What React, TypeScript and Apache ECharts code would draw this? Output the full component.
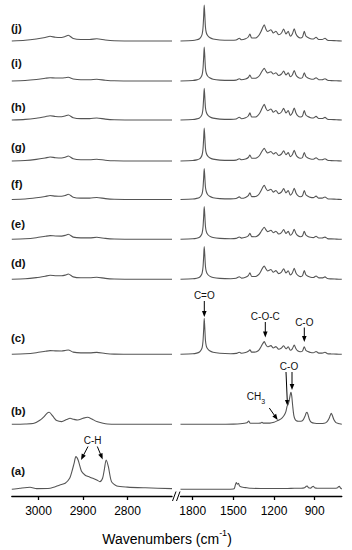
import React, { useEffect, useRef } from "react";
import * as echarts from "echarts";

// ---------- DATA ----------
const labels = ["(a)", "(b)", "(c)", "(d)", "(e)", "(f)", "(g)", "(h)", "(i)", "(j)"];
const leftTicks = [2800, 2900, 3000];
const rightTicks = [900, 1200, 1500, 1800];

// blend spectra (c)-(j), C-H region
const leftWnBlend = [3060, 3030, 3005, 2985, 2974, 2962, 2948, 2940, 2933, 2922, 2905, 2885, 2869, 2850, 2830, 2780, 2700];
const leftC = [0, 0.5, 1.6, 3, 3.7, 3.4, 3.3, 3.8, 4.3, 2.2, 1.4, 1.4, 1.9, 0.8, 0.2, 0, 0];
const leftD = [0, 0.5, 1.7, 3.1, 4, 3.6, 3.5, 4.2, 5.3, 2.4, 1.5, 1.5, 2.1, 0.9, 0.3, 0, 0];
const leftE = [0, 0.5, 1.6, 3, 3.7, 3.3, 3.2, 3.9, 5, 2.2, 1.4, 1.4, 2, 0.9, 0.3, 0, 0];
const leftF = [0, 0.5, 1.7, 3, 4, 3.4, 3.2, 4, 5.3, 2.3, 1.4, 1.4, 2, 0.9, 0.3, 0, 0];
const leftG = [0, 0.5, 1.6, 3, 4, 3.3, 3, 3.8, 5, 2.2, 1.3, 1.3, 1.8, 0.8, 0.2, 0, 0];
const leftH = [0, 0.6, 1.8, 3.3, 4.3, 3.5, 3.3, 4, 5, 2.3, 1.4, 1.4, 2, 0.9, 0.3, 0, 0];
const leftI = [0, 0.5, 1.5, 2.7, 3.3, 3, 3, 3.3, 3.7, 2, 1.2, 1.2, 1.7, 0.8, 0.2, 0, 0];
const leftJ = [0, 0.7, 2, 3.5, 4.7, 3.7, 3.5, 4.5, 5.7, 2.5, 1.5, 1.5, 2.2, 1.0, 0.3, 0, 0];

// blend spectra (c)-(j), fingerprint region
const rightWnBlend = [1890, 1800, 1770, 1750, 1738, 1730, 1724, 1719, 1715, 1711, 1706, 1700, 1690, 1675, 1650, 1600, 1520, 1480, 1456, 1440, 1410, 1390, 1378, 1365, 1345, 1330, 1310, 1296, 1285, 1272, 1260, 1247, 1223, 1205, 1186, 1166, 1145, 1129, 1112, 1095, 1080, 1065, 1051, 1038, 1026, 1006, 990, 977, 965, 950, 930, 910, 890, 870, 845, 824, 805, 780, 740, 700];
const rightC = [0, 0.5, 1.2, 2.3, 4.2, 7, 13, 25, 36, 27, 14, 8.5, 5.5, 3.5, 2, 1, 0.6, 0.9, 2, 1.1, 1.8, 3, 4.5, 2.2, 2.2, 2.5, 4.5, 7.5, 10.3, 12.7, 9.5, 7.5, 8.7, 6.3, 7.7, 5, 6.3, 8.5, 5.5, 7.5, 4, 5.5, 9.3, 5.5, 3.5, 2.5, 3.3, 7.5, 4, 2.8, 1.8, 1.5, 2.8, 1.2, 1.2, 2, 0.6, 0.4, 0.2, 0];
const rightD = [0, 0.5, 1.1, 2.1, 3.9, 6.5, 12, 23, 32.7, 25, 13, 8, 5, 3.2, 1.8, 0.9, 0.6, 1, 2.5, 1.2, 2.1, 3.7, 6.5, 2.8, 2.8, 3.1, 5.2, 8.3, 11.2, 13.3, 10.5, 8.3, 9.8, 7, 8.7, 5.7, 7.2, 10.6, 6.3, 8.6, 4.3, 6.3, 10.9, 6.3, 4.1, 2.7, 3.6, 8.7, 4.5, 3.1, 2.1, 1.8, 3.3, 1.4, 1.4, 2.4, 0.7, 0.4, 0.2, 0];
const rightE = [0, 0.5, 1.1, 2.1, 3.9, 6.5, 12, 23, 32.7, 25, 13, 8, 5, 3.2, 1.8, 0.9, 0.6, 0.9, 2.3, 1.2, 2, 3.4, 6, 2.7, 2.6, 2.9, 4.8, 7.6, 10, 12, 9.6, 7.7, 9, 6.6, 8, 5.3, 6.7, 9.8, 5.8, 8, 4, 5.8, 10, 5.8, 3.8, 2.6, 3.4, 8, 4.3, 2.9, 2, 1.7, 3, 1.3, 1.3, 2.2, 0.7, 0.4, 0.2, 0];
const rightF = [0, 0.5, 1.1, 2, 3.7, 6.2, 11.5, 22, 31, 23.5, 12.5, 8, 5, 3.2, 1.8, 0.9, 0.6, 1, 2.6, 1.2, 2.1, 3.8, 6.8, 2.9, 2.9, 3.2, 5.5, 8.8, 11.8, 14.3, 11, 8.8, 10.3, 7.4, 9, 5.9, 7.5, 11, 6.6, 9, 4.4, 6.6, 11.3, 6.6, 4.2, 2.8, 3.8, 9, 4.7, 3.2, 2.1, 1.9, 3.4, 1.4, 1.4, 2.5, 0.8, 0.5, 0.3, 0];
const rightG = [0, 0.5, 1.1, 2.1, 3.9, 6.5, 12, 23, 33, 25, 13, 8, 5.1, 3.3, 1.9, 0.9, 0.6, 0.9, 2.3, 1.2, 2, 3.5, 6, 2.8, 2.7, 3, 5, 8, 10.5, 12.7, 10, 8, 9.5, 7, 8.5, 5.5, 7, 10.3, 6.2, 8.5, 4.3, 6.2, 10.7, 6.2, 4, 2.7, 3.5, 8.5, 4.5, 3, 2, 1.8, 3.2, 1.3, 1.3, 2.3, 0.7, 0.4, 0.2, 0];
const rightH = [0, 0.5, 1.1, 2, 3.7, 6.2, 11.5, 22.5, 31.7, 24, 12.5, 8, 5.1, 3.3, 1.9, 0.9, 0.6, 1, 2.8, 1.3, 2.2, 4, 7.3, 3, 3, 3.3, 6, 9.5, 12.8, 15.7, 11.7, 9.3, 11, 7.8, 9.5, 6.2, 8, 11.7, 7, 9.5, 4.6, 7, 12, 7, 4.4, 3, 4, 9.5, 5, 3.4, 2.3, 2, 3.6, 1.5, 1.5, 2.6, 0.8, 0.5, 0.3, 0];
const rightI = [0, 0.5, 1.1, 2.1, 4, 6.7, 12.5, 24, 34, 25.5, 13, 8, 5, 3.2, 1.8, 0.9, 0.6, 0.9, 2.3, 1.2, 2, 3.5, 6, 2.8, 2.7, 3, 5, 8, 10.5, 12.7, 10, 8, 9.3, 7, 8.3, 5.5, 7, 10, 6, 8.3, 4.2, 6, 10.5, 6, 4, 2.7, 3.5, 8.3, 4.5, 3, 2, 1.8, 3.2, 1.3, 1.3, 2.3, 0.7, 0.4, 0.2, 0];
const rightJ = [0, 0.5, 1.2, 2.3, 4.2, 7, 13, 25, 36, 27, 14, 8.5, 5.5, 3.5, 2, 1, 0.7, 1, 2.7, 1.3, 2.2, 4, 7, 3, 3, 3.3, 6, 9.5, 13, 16.3, 12, 9.5, 11.3, 8, 9.7, 6.3, 8, 12, 7, 9.7, 4.7, 7, 12.3, 7, 4.5, 3, 4, 9.7, 5, 3.5, 2.3, 2, 3.7, 1.5, 1.5, 2.7, 0.8, 0.5, 0.3, 0];

// spectrum (b)
const bLeftWn = [3060, 3030, 3010, 2997, 2988, 2981, 2976, 2971, 2965, 2959, 2948, 2937, 2929, 2921, 2912, 2900, 2890, 2880, 2869, 2855, 2845, 2800, 2700];
const bLeft = [0, 0.3, 1, 4, 7.5, 11, 12, 10, 6.5, 3.7, 2.7, 4.7, 6, 5, 4.3, 6, 7, 5.3, 2.7, 1, 0.3, 0, 0];
const bRightWn = [1890, 1800, 1600, 1500, 1450, 1400, 1387, 1375, 1340, 1300, 1289, 1278, 1230, 1200, 1173, 1160, 1140, 1125, 1112, 1104, 1096, 1088, 1080, 1075, 1069, 1062, 1054, 1045, 1035, 1020, 1002, 985, 972, 962, 956, 948, 938, 925, 900, 860, 830, 810, 795, 785, 778, 770, 758, 745, 730, 715, 700];
const bRight = [0, 0, 0, 0.2, 0.5, 1.5, 3.3, 1, 1, 1.2, 2, 1.2, 1.2, 2, 3.7, 4.5, 6.5, 9, 13, 18, 20, 24, 30, 32, 28, 18, 9, 5, 3.5, 3, 3, 4.5, 8, 11.5, 12, 9, 4.5, 2, 1, 0.8, 1, 2.5, 5.5, 9, 11, 9, 4.5, 2, 1, 0.5, 0];

// spectrum (a)
const aLeftWn = [3060, 3042, 3019, 3004, 2974, 2952, 2940, 2930, 2925, 2920, 2916, 2911, 2903, 2895, 2888, 2878, 2869, 2862, 2856, 2852, 2848, 2843, 2836, 2824, 2800, 2760, 2700];
const aLeft = [0, 1, 2, 0.7, 1, 4.3, 6, 11, 17.7, 26, 32.7, 29.3, 17.7, 14, 12.7, 11, 9.3, 7.7, 11, 20, 29.3, 22.7, 7.7, 3.3, 2.2, 1.5, 0.7];
const aRightWn = [1890, 1700, 1550, 1500, 1492, 1484, 1478, 1470, 1462, 1455, 1445, 1430, 1400, 1370, 1300, 1200, 1100, 1050, 1000, 975, 962, 955, 945, 930, 918, 910, 900, 880, 850, 800, 760, 735, 725, 718, 712, 705, 700];
const aRight = [0, 0, 0, 0.3, 1, 5, 6.7, 5, 6, 3.5, 2.5, 2, 1.5, 1, 0.8, 0.8, 0.8, 1, 1, 1.5, 3, 3.3, 1.5, 1.2, 2.5, 3, 1.5, 1, 1, 1, 1, 1.3, 2.5, 3, 1.7, 0.8, 0.3];

// ---------- LAYOUT ----------
const FONT = "'Liberation Sans', Arial, sans-serif";
const AXIS_Y = 496;
// vertical stacking offsets (pixel units above axis) for a..j
const offsets = [6.7, 71.7, 141.7, 216.7, 256.7, 296.5, 335, 376, 415, 455];
const labelY = [471, 411, 338, 263, 224, 184, 147, 107, 63, 28];

const spectraLeft: [number[], number[]][] = [
  [aLeftWn, aLeft], [bLeftWn, bLeft],
  [leftWnBlend, leftC], [leftWnBlend, leftD], [leftWnBlend, leftE], [leftWnBlend, leftF],
  [leftWnBlend, leftG], [leftWnBlend, leftH], [leftWnBlend, leftI], [leftWnBlend, leftJ],
];
const spectraRight: [number[], number[]][] = [
  [aRightWn, aRight], [bRightWn, bRight],
  [rightWnBlend, rightC], [rightWnBlend, rightD], [rightWnBlend, rightE], [rightWnBlend, rightF],
  [rightWnBlend, rightG], [rightWnBlend, rightH], [rightWnBlend, rightI], [rightWnBlend, rightJ],
];

function arrow(x1: number, y1: number, x2: number, y2: number): any[] {
  const dx = x2 - x1, dy = y2 - y1;
  const len = Math.hypot(dx, dy);
  const ux = dx / len, uy = dy / len;
  const hl = 6, hw = 2.3;
  const bx = x2 - ux * hl, by = y2 - uy * hl;
  return [
    { type: "line", shape: { x1, y1, x2: bx + ux, y2: by + uy }, style: { stroke: "#000", lineWidth: 1 }, silent: true },
    {
      type: "polygon",
      shape: { points: [[x2, y2], [bx - uy * hw, by + ux * hw], [bx + uy * hw, by - ux * hw]] },
      style: { fill: "#000" },
      silent: true,
    },
  ];
}

function txt(text: string, x: number, y: number, size: number, bold = false): any {
  return {
    type: "text",
    x, y,
    style: { text, fontSize: size, fontFamily: FONT, fontWeight: bold ? "bold" : "normal", fill: "#111", align: bold ? "left" : "center", verticalAlign: "middle" },
    silent: true,
  };
}

export default function App() {
  const ref = useRef<HTMLDivElement>(null);
  useEffect(() => {
    document.body.style.margin = "0";
    if (!ref.current) return;
    const chart = echarts.init(ref.current, null, { renderer: "svg" });

    const series: any[] = [];
    const lineStyle = { color: "#555", width: 1.1 };
    spectraLeft.forEach(([wn, v], k) => {
      series.push({
        type: "line", xAxisIndex: 0, yAxisIndex: 0, showSymbol: false, smooth: 0.25,
        lineStyle, data: wn.map((w, i) => [w, v[i] + offsets[k]]), silent: true,
      });
    });
    spectraRight.forEach(([wn, v], k) => {
      series.push({
        type: "line", xAxisIndex: 1, yAxisIndex: 1, showSymbol: false, smooth: 0.25,
        lineStyle, data: wn.map((w, i) => [w, v[i] + offsets[k]]), silent: true,
      });
    });

    const axisCommon = (min: number, max: number, ticks: number[], gridIndex: number) => ({
      type: "value", gridIndex, min, max, inverse: true,
      axisLine: { show: true, lineStyle: { color: "#000", width: 1.3 } },
      axisTick: { show: true, inside: false, length: 4, customValues: ticks, lineStyle: { color: "#000", width: 1.3 } },
      axisLabel: { customValues: ticks, color: "#000", fontSize: 12, fontFamily: FONT, margin: 9, formatter: (v: number) => String(v) },
      splitLine: { show: false },
    });

    const graphic: any[] = [];
    labels.forEach((l, k) => graphic.push(txt(l, 11, labelY[k], 11.5, true)));
    // annotations
    graphic.push(txt("C=O", 204.3, 295, 10));
    graphic.push(...arrow(204.3, 301, 204.3, 317));
    graphic.push(txt("C-O-C", 265.3, 316.5, 10));
    graphic.push(...arrow(265.3, 322, 265.3, 337.5));
    graphic.push(txt("C-O", 304.3, 322, 10));
    graphic.push(...arrow(304.3, 327.5, 304.3, 342));
    graphic.push(txt("C-O", 289, 366.5, 10));
    graphic.push(...arrow(286, 372, 287.5, 406));
    graphic.push(...arrow(292, 372, 292, 390));
    graphic.push({
      type: "text", x: 256, y: 398,
      style: {
        text: "{a|CH}{b|3}", align: "center", verticalAlign: "middle", fill: "#111",
        rich: {
          a: { fontSize: 10, fontFamily: FONT, fill: "#111", lineHeight: 14, verticalAlign: "top" },
          b: { fontSize: 7, fontFamily: FONT, fill: "#111", lineHeight: 14, verticalAlign: "bottom" },
        },
      },
      silent: true,
    });
    graphic.push(...arrow(269.3, 408, 277.7, 420));
    graphic.push(txt("C-H", 92.7, 440, 10));
    graphic.push(...arrow(88, 446.5, 81, 460));
    graphic.push(...arrow(97.3, 446.5, 102.7, 459.5));
    // axis break marks
    graphic.push({ type: "line", shape: { x1: 172.5, y1: 501, x2: 176, y2: 491.5 }, style: { stroke: "#000", lineWidth: 1 }, silent: true });
    graphic.push({ type: "line", shape: { x1: 176.5, y1: 501, x2: 180, y2: 491.5 }, style: { stroke: "#000", lineWidth: 1 }, silent: true });
    // axis title
    graphic.push({
      type: "text", x: 167, y: 537,
      style: {
        text: "{a|Wavenumbers (cm}{s|-1}{a|)}", align: "center", verticalAlign: "middle",
        rich: {
          a: { fontSize: 14, fontFamily: FONT, fill: "#000", lineHeight: 17, verticalAlign: "bottom" },
          s: { fontSize: 9, fontFamily: FONT, fill: "#000", lineHeight: 10, verticalAlign: "top" },
        },
      },
      silent: true,
    });

    chart.setOption({
      animation: false,
      grid: [
        { left: 11.8, width: 160.2, top: 0, height: AXIS_Y, containLabel: false },
        { left: 180.5, width: 161.3, top: 0, height: AXIS_Y, containLabel: false },
      ],
      xAxis: [axisCommon(2700, 3060, leftTicks, 0), axisCommon(700, 1890, rightTicks, 1)],
      yAxis: [
        { type: "value", gridIndex: 0, min: 0, max: AXIS_Y, show: false },
        { type: "value", gridIndex: 1, min: 0, max: AXIS_Y, show: false },
      ],
      series,
      graphic,
    });
    return () => chart.dispose();
  }, []);
  return <div ref={ref} style={{ width: 352, height: 550 }} />;
}
